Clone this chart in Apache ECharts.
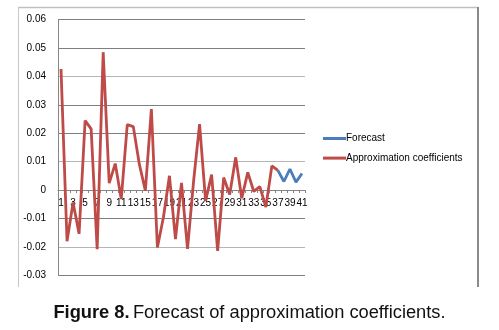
<!DOCTYPE html>
<html><head><meta charset="utf-8">
<script src="https://cdn.jsdelivr.net/npm/echarts@6/dist/echarts.min.js"></script>
<style>html,body{margin:0;padding:0;background:#fff}#c{width:499px;height:330px}</style>
</head><body><div id="c"></div>
<script>
const categories = Array.from({length: 41}, (_, i) => String(i + 1));
const approxValues = [0.0426, -0.018, -0.0044, -0.0154, 0.0244, 0.0215, -0.0208, 0.0485, 0.0024, 0.0093,
  -0.0032, 0.023, 0.0223, 0.0091, -0.0002, 0.0285, -0.0202, -0.0096, 0.005, -0.0173,
  0.0025, -0.0207, 0.003, 0.0232, -0.0038, 0.0054, -0.0214, 0.0044, -0.0016, 0.0115,
  -0.0029, 0.0062, -0.0005, 0.0012, -0.006, 0.0085, 0.0069];
const forecastValues = [null, null, null, null, null, null, null, null, null, null,
  null, null, null, null, null, null, null, null, null, null,
  null, null, null, null, null, null, null, null, null, null,
  null, null, null, null, null, null, 0.0069, 0.003, 0.0074, 0.0028, 0.0058];
const yMin = -0.03, yMax = 0.06, yStep = 0.01;
const caption = 'Forecast of approximation coefficients.';

const W = 499, H = 330;
const gLeft = 58, gRight = 194, gTop = 19.5, gBottom = 54.7;
const plotH = H - gTop - gBottom;
const zeroY = gTop + plotH * (yMax - 0) / (yMax - yMin);

const chart = echarts.init(document.getElementById('c'), null, {renderer: 'canvas'});
const font = 'Liberation Sans, Arial, sans-serif';
chart.setOption({
  animation: false,
  backgroundColor: '#fff',
  grid: [
    {left: gLeft, right: gRight, top: gTop, bottom: gBottom, containLabel: false},
    {left: gLeft, right: gRight, top: gTop, bottom: H - zeroY, containLabel: false}
  ],
  legend: {
    orient: 'vertical', left: 323, top: 133.5, padding: 0,
    itemWidth: 23, itemHeight: 3, itemGap: 9.6,
    icon: 'rect',
    data: ['Forecast', 'Approximation coefficients'],
    textStyle: {fontFamily: font, fontSize: 10, color: '#000', padding: [0, 0, 0, -5]}
  },
  xAxis: [
    {type: 'category', data: categories, boundaryGap: true, gridIndex: 0,
      axisLine: {show: false}, axisTick: {show: false}, axisLabel: {show: false}, splitLine: {show: false}},
    {type: 'category', data: categories, boundaryGap: true, gridIndex: 1,
      axisLine: {show: true, onZero: false, lineStyle: {color: '#868686', width: 1}},
      axisTick: {show: true, interval: 0, length: 3, lineStyle: {color: '#868686'}},
      axisLabel: {interval: 1, color: '#000', fontFamily: font, fontSize: 10, margin: 8, hideOverlap: false},
      splitLine: {show: false}}
  ],
  yAxis: [
    {type: 'value', min: yMin, max: yMax, interval: yStep, gridIndex: 0,
      axisLine: {show: true, lineStyle: {color: '#868686'}},
      axisTick: {show: false},
      axisLabel: {color: '#000', fontFamily: font, fontSize: 10, margin: 12,
        formatter: v => { const r = Math.round(v * 100) / 100; return r === 0 ? '0' : String(r); }},
      splitLine: {show: true, lineStyle: {color: ['#7f7f7f', '#b5b5b5', '#7f7f7f', '#7f7f7f', '#b5b5b5', '#7f7f7f', '#7f7f7f', '#b5b5b5', '#7f7f7f', '#7f7f7f'], width: 1}}},
    {type: 'value', gridIndex: 1, show: false, min: 0, max: 1}
  ],
  series: [
    {name: 'Forecast', type: 'line', data: forecastValues, xAxisIndex: 0, yAxisIndex: 0, showSymbol: false, symbol: 'none',
      lineStyle: {color: '#4A7EBB', width: 2.8}, itemStyle: {color: '#4A7EBB'}, z: 4},
    {name: 'Approximation coefficients', type: 'line', data: approxValues, xAxisIndex: 0, yAxisIndex: 0, showSymbol: false, symbol: 'none',
      lineStyle: {color: '#BE4B48', width: 2.8}, itemStyle: {color: '#BE4B48'}, z: 5}
  ],
  graphic: [
    {type: 'line', shape: {x1: 18.5, y1: 7, x2: 18.5, y2: 287}, style: {stroke: '#c8c8c8', lineWidth: 1}},
    {type: 'line', shape: {x1: 18.5, y1: 7.5, x2: 478, y2: 7.5}, style: {stroke: '#c0c0c0', lineWidth: 1.5}},
    {type: 'line', shape: {x1: 478, y1: 7, x2: 478, y2: 287}, style: {stroke: '#8a8a8a', lineWidth: 2}},
    {type: 'text', left: 'center', top: 303.5,
      style: {text: '{b|Figure 8.} {n|' + caption + '}', rich: {
        b: {fontFamily: font, fontSize: 18.3, fontWeight: 'bold', fill: '#111'},
        n: {fontFamily: font, fontSize: 18.3, fill: '#111'}}}}
  ]
});
</script></body></html>
